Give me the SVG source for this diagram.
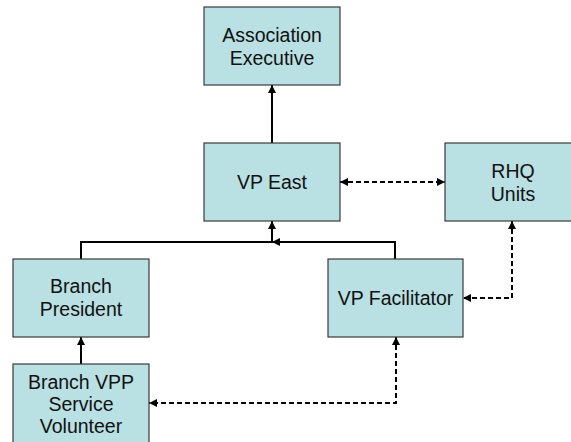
<svg xmlns="http://www.w3.org/2000/svg" width="571" height="442" viewBox="0 0 571 442">
<style>
.box{fill:#b9e0e2;stroke:#3a3a3a;stroke-width:1.2}
.t{font-family:"Liberation Sans",Arial,sans-serif;font-size:19.5px;fill:#111;text-anchor:middle}
.s{fill:none;stroke:#000;stroke-width:2}
.d{fill:none;stroke:#000;stroke-width:2;stroke-dasharray:5 3}
</style>
<defs>
<marker id="ah" markerUnits="userSpaceOnUse" markerWidth="9" markerHeight="8" refX="8" refY="4" orient="auto-start-reverse">
<path d="M0,0 L8,4 L0,8 z" fill="#000"/>
</marker>
</defs>
<rect width="571" height="442" fill="#fff"/>
<g id="connectors">
<path class="s" d="M272,143 V85" marker-end="url(#ah)"/>
<path class="s" d="M81,259 V242 H272 V221" marker-end="url(#ah)"/>
<path class="s" d="M395,259 V242 H272" marker-end="url(#ah)"/>
<path class="s" d="M81,364 V337" marker-end="url(#ah)"/>
<path class="d" d="M340,182 H445" marker-start="url(#ah)" marker-end="url(#ah)"/>
<path class="d" d="M512,221 V298 H463" marker-start="url(#ah)" marker-end="url(#ah)"/>
<path class="d" d="M396,337 V403 H149" marker-start="url(#ah)" marker-end="url(#ah)"/>
</g>
<g id="assoc">
<rect class="box" x="204" y="7" width="136" height="78"/>
<text class="t" x="272" y="42">Association</text>
<text class="t" x="272" y="65">Executive</text>
</g>
<g id="vpeast">
<rect class="box" x="204" y="143" width="136" height="78"/>
<text class="t" x="272" y="189">VP East</text>
</g>
<g id="rhq">
<rect class="box" x="445" y="143" width="136" height="78"/>
<text class="t" x="513" y="178">RHQ</text>
<text class="t" x="513" y="201">Units</text>
</g>
<g id="branchpres">
<rect class="box" x="13" y="259" width="136" height="78"/>
<text class="t" x="81" y="293">Branch</text>
<text class="t" x="81" y="316">President</text>
</g>
<g id="vpfac">
<rect class="box" x="328" y="259" width="135" height="78"/>
<text class="t" x="395.5" y="305">VP Facilitator</text>
</g>
<g id="branchvpp">
<rect class="box" x="13" y="364" width="136" height="80"/>
<text class="t" x="81" y="389">Branch VPP</text>
<text class="t" x="81" y="411">Service</text>
<text class="t" x="81" y="433">Volunteer</text>
</g>
</svg>
